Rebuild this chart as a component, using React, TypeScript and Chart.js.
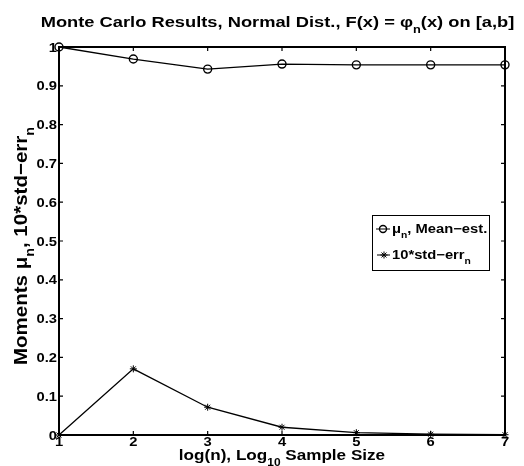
import React, { useEffect, useRef } from "react";
import { Chart, registerables } from "chart.js";

Chart.register(...registerables);

// ---- data ----
const xValues = [1, 2, 3, 4, 5, 6, 7];
const meanEst = [1.0, 0.969, 0.943, 0.956, 0.954, 0.954, 0.954];
const stdErr10 = [0.0, 0.1705, 0.0716, 0.02, 0.006, 0.002, 0.0008];

type Seg = { t: string; sub?: boolean };
const titleSegs: Seg[] = [
  { t: "Monte Carlo Results, Normal Dist., F(x) = φ" },
  { t: "n", sub: true },
  { t: "(x) on [a,b]" },
];
const xTitleSegs: Seg[] = [
  { t: "log(n), Log" },
  { t: "10", sub: true },
  { t: " Sample Size" },
];
const yTitleSegs: Seg[] = [
  { t: "Moments μ" },
  { t: "n", sub: true },
  { t: ", 10*std−err" },
  { t: "n", sub: true },
];
const legend1Segs: Seg[] = [{ t: "μ" }, { t: "n", sub: true }, { t: ", Mean−est." }];
const legend2Segs: Seg[] = [{ t: "10*std−err" }, { t: "n", sub: true }];

const FONT = '"Liberation Sans", Arial, Helvetica, sans-serif';
const SX = 1.18;

function segFont(size: number, sub?: boolean) {
  return `bold ${sub ? size * 0.7 : size}px ${FONT}`;
}

function richWidth(ctx: CanvasRenderingContext2D, segs: Seg[], size: number) {
  let w = 0;
  for (const s of segs) {
    ctx.font = segFont(size, s.sub);
    w += ctx.measureText(s.t).width;
  }
  return w;
}

function drawRich(
  ctx: CanvasRenderingContext2D,
  segs: Seg[],
  x: number,
  y: number,
  size: number,
  align: "left" | "center" | "right",
  sx: number
) {
  const total = richWidth(ctx, segs, size) * sx;
  const start = align === "center" ? x - total / 2 : align === "right" ? x - total : x;
  ctx.save();
  ctx.translate(start, y);
  ctx.scale(sx, 1);
  ctx.textAlign = "left";
  ctx.textBaseline = "alphabetic";
  ctx.fillStyle = "#000";
  let cx = 0;
  for (const s of segs) {
    ctx.font = segFont(size, s.sub);
    ctx.fillText(s.t, cx, s.sub ? size * 0.38 : 0);
    cx += ctx.measureText(s.t).width;
  }
  ctx.restore();
}

function fmtTick(v: number) {
  return String(Number(v.toFixed(1)));
}

const framePlugin = {
  id: "matlabFrame",
  beforeDatasetsDraw(chart: any) {
    const { ctx, chartArea } = chart;
    const { left, right, top, bottom } = chartArea;
    const xs = chart.scales.x;
    const ys = chart.scales.y;
    ctx.save();
    ctx.strokeStyle = "#000";
    ctx.lineWidth = 1.2;
    const tl = 4;
    ctx.beginPath();
    for (const t of xs.ticks) {
      const px = xs.getPixelForValue(t.value);
      ctx.moveTo(px, bottom);
      ctx.lineTo(px, bottom - tl);
      ctx.moveTo(px, top);
      ctx.lineTo(px, top + tl);
    }
    for (const t of ys.ticks) {
      const py = ys.getPixelForValue(t.value);
      ctx.moveTo(left, py);
      ctx.lineTo(left + tl, py);
      ctx.moveTo(right, py);
      ctx.lineTo(right - tl, py);
    }
    ctx.stroke();
    ctx.lineWidth = 2;
    ctx.strokeRect(left, top, right - left, bottom - top);
    ctx.restore();
  },
  afterDraw(chart: any) {
    const { ctx, chartArea } = chart;
    const { left, right, top, bottom } = chartArea;
    const xs = chart.scales.x;
    const ys = chart.scales.y;
    const tickSize = 12.5;
    // y tick labels
    for (const t of ys.ticks) {
      const py = ys.getPixelForValue(t.value);
      drawRich(ctx, [{ t: fmtTick(t.value) }], left - 2, py + tickSize * 0.36, tickSize, "right", SX);
    }
    // x tick labels
    for (const t of xs.ticks) {
      const px = xs.getPixelForValue(t.value);
      drawRich(ctx, [{ t: fmtTick(t.value) }], px, bottom + 2 + tickSize * 0.72, tickSize, "center", SX);
    }
    // title
    drawRich(ctx, titleSegs, 277.5, 27, 15.5, "center", SX);
    // x title
    drawRich(ctx, xTitleSegs, (left + right) / 2, 460, 14.5, "center", SX);
    // y title (rotated)
    const ySize = 20.5;
    ctx.save();
    ctx.translate(20, 246);
    ctx.scale(0.9, 1);
    ctx.rotate(-Math.PI / 2);
    drawRich(ctx, yTitleSegs, 0, ySize * 0.36, ySize, "center", 1);
    ctx.restore();

    // legend
    const bx = 372, by = 215, bw = 117, bh = 55;
    ctx.save();
    ctx.fillStyle = "#fff";
    ctx.fillRect(bx, by, bw, bh);
    ctx.strokeStyle = "#000";
    ctx.lineWidth = 1;
    ctx.strokeRect(bx + 0.5, by + 0.5, bw, bh);
    ctx.lineWidth = 1.2;
    ctx.beginPath();
    ctx.moveTo(376, 229);
    ctx.lineTo(390, 229);
    ctx.moveTo(377, 255);
    ctx.lineTo(390, 255);
    ctx.stroke();
    ctx.lineWidth = 1.4;
    ctx.beginPath();
    ctx.arc(383, 229, 3.5, 0, Math.PI * 2);
    ctx.stroke();
    // asterisk marker
    ctx.beginPath();
    const r = 3.5;
    const cx = 384, cy = 255;
    ctx.moveTo(cx - r, cy);
    ctx.lineTo(cx + r, cy);
    ctx.moveTo(cx, cy - r);
    ctx.lineTo(cx, cy + r);
    const d = r * 0.707;
    ctx.moveTo(cx - d, cy - d);
    ctx.lineTo(cx + d, cy + d);
    ctx.moveTo(cx - d, cy + d);
    ctx.lineTo(cx + d, cy - d);
    ctx.lineWidth = 1;
    ctx.stroke();
    ctx.restore();
    drawRich(ctx, legend1Segs, 392, 233, 12.5, "left", SX);
    drawRich(ctx, legend2Segs, 392, 259, 12.5, "left", SX);
  },
};

export default function App() {
  const ref = useRef<HTMLCanvasElement | null>(null);
  useEffect(() => {
    if (!ref.current) return;
    const chart = new Chart(ref.current, {
      type: "line",
      data: {
        datasets: [
          {
            label: "mean",
            data: xValues.map((x, i) => ({ x, y: meanEst[i] })),
            borderColor: "#000",
            borderWidth: 1.3,
            pointStyle: "circle",
            pointRadius: 4,
            pointBorderWidth: 1.4,
            pointBorderColor: "#000",
            pointBackgroundColor: "rgba(0,0,0,0)",
            clip: false as any,
            tension: 0,
          },
          {
            label: "std",
            data: xValues.map((x, i) => ({ x, y: stdErr10[i] })),
            borderColor: "#000",
            borderWidth: 1.3,
            pointStyle: "star",
            pointRadius: 3.5,
            pointBorderWidth: 1,
            pointBorderColor: "#000",
            pointBackgroundColor: "rgba(0,0,0,0)",
            clip: false as any,
            tension: 0,
          },
        ],
      },
      options: {
        responsive: false,
        animation: false,
        devicePixelRatio: 1,
        layout: { padding: { top: 47, right: 19, left: 0, bottom: 0 } },
        plugins: {
          legend: { display: false },
          title: { display: false },
          tooltip: { enabled: false },
        },
        scales: {
          x: {
            type: "linear",
            min: 1,
            max: 7,
            ticks: { display: false, stepSize: 1 },
            grid: { display: false },
            border: { display: false },
            afterFit: (s: any) => {
              s.height = 31;
            },
          },
          y: {
            type: "linear",
            min: 0,
            max: 1,
            ticks: { display: false, stepSize: 0.1 },
            grid: { display: false },
            border: { display: false },
            afterFit: (s: any) => {
              s.width = 59;
            },
          },
        },
      },
      plugins: [framePlugin],
    });
    return () => chart.destroy();
  }, []);
  return (
    <div style={{ position: "absolute", left: 0, top: 0, width: 524, height: 466, background: "#fff" }}>
      <canvas ref={ref} width={524} height={466} style={{ width: 524, height: 466, display: "block" }} />
    </div>
  );
}
